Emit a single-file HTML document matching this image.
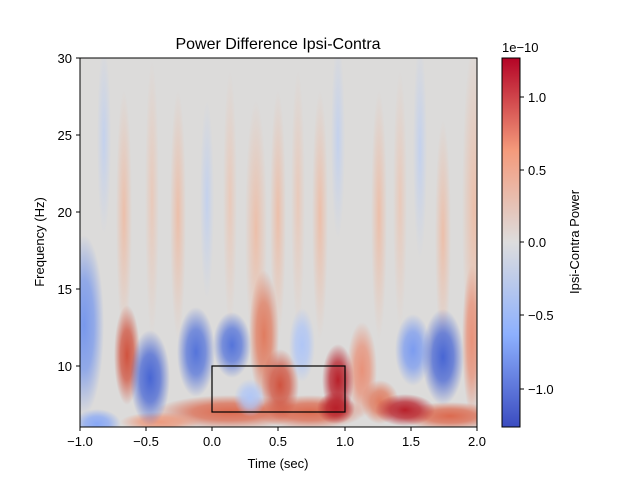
<!DOCTYPE html><html><head><style>body{margin:0;background:#fff;font-family:"Liberation Sans",sans-serif}</style></head><body>
<svg width="640" height="480" xmlns="http://www.w3.org/2000/svg" font-family="Liberation Sans, sans-serif">
<defs>
<clipPath id="c"><rect x="80" y="58" width="397" height="369"/></clipPath>
<linearGradient id="cb" x1="0" y1="1" x2="0" y2="0">
<stop offset="0" stop-color="#3b4cc0"/><stop offset="0.25" stop-color="#8db0fe"/><stop offset="0.5" stop-color="#dddddd"/><stop offset="0.75" stop-color="#f49a7b"/><stop offset="1" stop-color="#b40426"/></linearGradient>
<radialGradient id="sb"><stop offset="0" stop-color="#b9cdf5" stop-opacity="0.7"/><stop offset="1" stop-color="#b9cdf5" stop-opacity="0"/></radialGradient>
<radialGradient id="sr"><stop offset="0" stop-color="#f0b89e" stop-opacity="0.8"/><stop offset="1" stop-color="#f0b89e" stop-opacity="0"/></radialGradient>
<radialGradient id="sl"><stop offset="0" stop-color="#eec2ad" stop-opacity="0.7"/><stop offset="1" stop-color="#eec2ad" stop-opacity="0"/></radialGradient>
<radialGradient id="g1"><stop offset="0" stop-color="#7898ec"/><stop offset="0.5" stop-color="#7898ec" stop-opacity="0.75"/><stop offset="1" stop-color="#7898ec" stop-opacity="0"/></radialGradient>
<radialGradient id="g2"><stop offset="0" stop-color="#88a8f6"/><stop offset="0.5" stop-color="#88a8f6" stop-opacity="0.75"/><stop offset="1" stop-color="#88a8f6" stop-opacity="0"/></radialGradient>
<radialGradient id="g3"><stop offset="0" stop-color="#d0533f"/><stop offset="0.5" stop-color="#d0533f" stop-opacity="0.75"/><stop offset="1" stop-color="#d0533f" stop-opacity="0"/></radialGradient>
<radialGradient id="g4"><stop offset="0" stop-color="#4866d4"/><stop offset="0.5" stop-color="#4866d4" stop-opacity="0.75"/><stop offset="1" stop-color="#4866d4" stop-opacity="0"/></radialGradient>
<radialGradient id="g5"><stop offset="0" stop-color="#5574da"/><stop offset="0.5" stop-color="#5574da" stop-opacity="0.75"/><stop offset="1" stop-color="#5574da" stop-opacity="0"/></radialGradient>
<radialGradient id="g6"><stop offset="0" stop-color="#dc6a4f"/><stop offset="0.5" stop-color="#dc6a4f" stop-opacity="0.75"/><stop offset="1" stop-color="#dc6a4f" stop-opacity="0"/></radialGradient>
<radialGradient id="g7"><stop offset="0" stop-color="#ec9a7e"/><stop offset="0.5" stop-color="#ec9a7e" stop-opacity="0.75"/><stop offset="1" stop-color="#ec9a7e" stop-opacity="0"/></radialGradient>
<radialGradient id="g8"><stop offset="0" stop-color="#e07c60"/><stop offset="0.5" stop-color="#e07c60" stop-opacity="0.75"/><stop offset="1" stop-color="#e07c60" stop-opacity="0"/></radialGradient>
<radialGradient id="g9"><stop offset="0" stop-color="#b0c6f6"/><stop offset="0.5" stop-color="#b0c6f6" stop-opacity="0.75"/><stop offset="1" stop-color="#b0c6f6" stop-opacity="0"/></radialGradient>
<radialGradient id="g10"><stop offset="0" stop-color="#b8202a"/><stop offset="0.5" stop-color="#b8202a" stop-opacity="0.75"/><stop offset="1" stop-color="#b8202a" stop-opacity="0"/></radialGradient>
<radialGradient id="g11"><stop offset="0" stop-color="#e8927a"/><stop offset="0.5" stop-color="#e8927a" stop-opacity="0.75"/><stop offset="1" stop-color="#e8927a" stop-opacity="0"/></radialGradient>
<radialGradient id="g12"><stop offset="0" stop-color="#7c9cf0"/><stop offset="0.5" stop-color="#7c9cf0" stop-opacity="0.75"/><stop offset="1" stop-color="#7c9cf0" stop-opacity="0"/></radialGradient>
</defs>
<rect x="80" y="58" width="397" height="369" fill="#dcdbda"/>
<g clip-path="url(#c)">
<ellipse cx="104" cy="140" rx="7" ry="95" fill="url(#sb)"/>
<ellipse cx="124" cy="215" rx="8" ry="125" fill="url(#sr)"/>
<ellipse cx="152" cy="200" rx="7" ry="140" fill="url(#sl)"/>
<ellipse cx="178" cy="215" rx="8" ry="125" fill="url(#sr)"/>
<ellipse cx="207" cy="200" rx="7" ry="100" fill="url(#sb)"/>
<ellipse cx="230" cy="200" rx="7" ry="130" fill="url(#sl)"/>
<ellipse cx="256" cy="230" rx="11" ry="130" fill="url(#sr)"/>
<ellipse cx="278" cy="215" rx="8" ry="125" fill="url(#sr)"/>
<ellipse cx="298" cy="200" rx="7" ry="130" fill="url(#sl)"/>
<ellipse cx="320" cy="215" rx="8" ry="125" fill="url(#sr)"/>
<ellipse cx="338" cy="140" rx="7" ry="100" fill="url(#sb)"/>
<ellipse cx="379" cy="215" rx="8" ry="125" fill="url(#sr)"/>
<ellipse cx="400" cy="200" rx="7" ry="130" fill="url(#sl)"/>
<ellipse cx="420" cy="150" rx="7" ry="110" fill="url(#sb)"/>
<ellipse cx="443" cy="235" rx="8" ry="115" fill="url(#sr)"/>
<ellipse cx="474" cy="210" rx="12" ry="170" fill="url(#sr)"/>

<ellipse cx="84" cy="325" rx="20" ry="90" fill="url(#g1)"/>
<ellipse cx="97" cy="424" rx="24" ry="15" fill="url(#g2)"/>
<ellipse cx="230" cy="412" rx="75" ry="17" fill="url(#g6)"/>
<ellipse cx="160" cy="422" rx="40" ry="10" fill="url(#g7)"/>
<ellipse cx="310" cy="412" rx="55" ry="17" fill="url(#g6)"/>
<ellipse cx="450" cy="416" rx="50" ry="14" fill="url(#g6)"/>
<ellipse cx="127" cy="355" rx="13" ry="50" fill="url(#g3)"/>
<ellipse cx="150" cy="378" rx="20" ry="48" fill="url(#g4)"/>
<ellipse cx="196" cy="352" rx="19" ry="45" fill="url(#g5)"/>
<ellipse cx="232" cy="345" rx="19" ry="33" fill="url(#g5)"/>
<ellipse cx="264" cy="335" rx="15" ry="65" fill="url(#g8)"/>
<ellipse cx="250" cy="398" rx="16" ry="19" fill="url(#g9)"/>
<ellipse cx="280" cy="385" rx="19" ry="36" fill="url(#g3)"/>
<ellipse cx="302" cy="345" rx="13" ry="37" fill="url(#g9)"/>
<ellipse cx="362" cy="370" rx="15" ry="48" fill="url(#g11)"/>
<ellipse cx="380" cy="402" rx="19" ry="22" fill="url(#g8)"/>
<ellipse cx="338" cy="380" rx="16" ry="36" fill="url(#g10)"/>
<ellipse cx="336" cy="408" rx="19" ry="16" fill="url(#g10)"/>
<ellipse cx="405" cy="410" rx="30" ry="16" fill="url(#g10)"/>
<ellipse cx="413" cy="350" rx="18" ry="36" fill="url(#g12)"/>
<ellipse cx="443" cy="357" rx="21" ry="48" fill="url(#g4)"/>
<ellipse cx="472" cy="340" rx="10" ry="75" fill="url(#g11)"/>
</g>
<rect x="212" y="366" width="133" height="46" fill="none" stroke="#000" stroke-width="1.2"/>
<rect x="80" y="58" width="397" height="369" fill="none" stroke="#000" stroke-width="1"/>
<text x="278" y="49" font-size="16" text-anchor="middle">Power Difference Ipsi-Contra</text>
<g font-size="13" text-anchor="middle">
<line x1="80" y1="427" x2="80" y2="431" stroke="#000"/><text x="80" y="446">−1.0</text>
<line x1="146" y1="427" x2="146" y2="431" stroke="#000"/><text x="146" y="446">−0.5</text>
<line x1="212" y1="427" x2="212" y2="431" stroke="#000"/><text x="212" y="446">0.0</text>
<line x1="278" y1="427" x2="278" y2="431" stroke="#000"/><text x="278" y="446">0.5</text>
<line x1="345" y1="427" x2="345" y2="431" stroke="#000"/><text x="345" y="446">1.0</text>
<line x1="411" y1="427" x2="411" y2="431" stroke="#000"/><text x="411" y="446">1.5</text>
<line x1="477" y1="427" x2="477" y2="431" stroke="#000"/><text x="477" y="446">2.0</text>
<text x="278" y="468">Time (sec)</text>
</g>
<g font-size="13" text-anchor="end">
<line x1="76" y1="58" x2="80" y2="58" stroke="#000"/><text x="72" y="63">30</text>
<line x1="76" y1="135" x2="80" y2="135" stroke="#000"/><text x="72" y="140">25</text>
<line x1="76" y1="212" x2="80" y2="212" stroke="#000"/><text x="72" y="217">20</text>
<line x1="76" y1="289" x2="80" y2="289" stroke="#000"/><text x="72" y="294">15</text>
<line x1="76" y1="366" x2="80" y2="366" stroke="#000"/><text x="72" y="371">10</text>
</g>
<text transform="translate(44,242) rotate(-90)" font-size="13" text-anchor="middle">Frequency (Hz)</text>
<rect x="502" y="58" width="18" height="369" fill="url(#cb)" stroke="#000" stroke-width="1"/>
<g font-size="13">
<line x1="520" y1="97" x2="524" y2="97" stroke="#000"/><text x="528" y="102">1.0</text>
<line x1="520" y1="170" x2="524" y2="170" stroke="#000"/><text x="528" y="175">0.5</text>
<line x1="520" y1="242" x2="524" y2="242" stroke="#000"/><text x="528" y="247">0.0</text>
<line x1="520" y1="315" x2="524" y2="315" stroke="#000"/><text x="528" y="320">−0.5</text>
<line x1="520" y1="389" x2="524" y2="389" stroke="#000"/><text x="528" y="394">−1.0</text>
<text x="502" y="52">1e−10</text>
</g>
<text transform="translate(579,242) rotate(-90)" font-size="13" text-anchor="middle">Ipsi-Contra Power</text>
</svg>
</body></html>
